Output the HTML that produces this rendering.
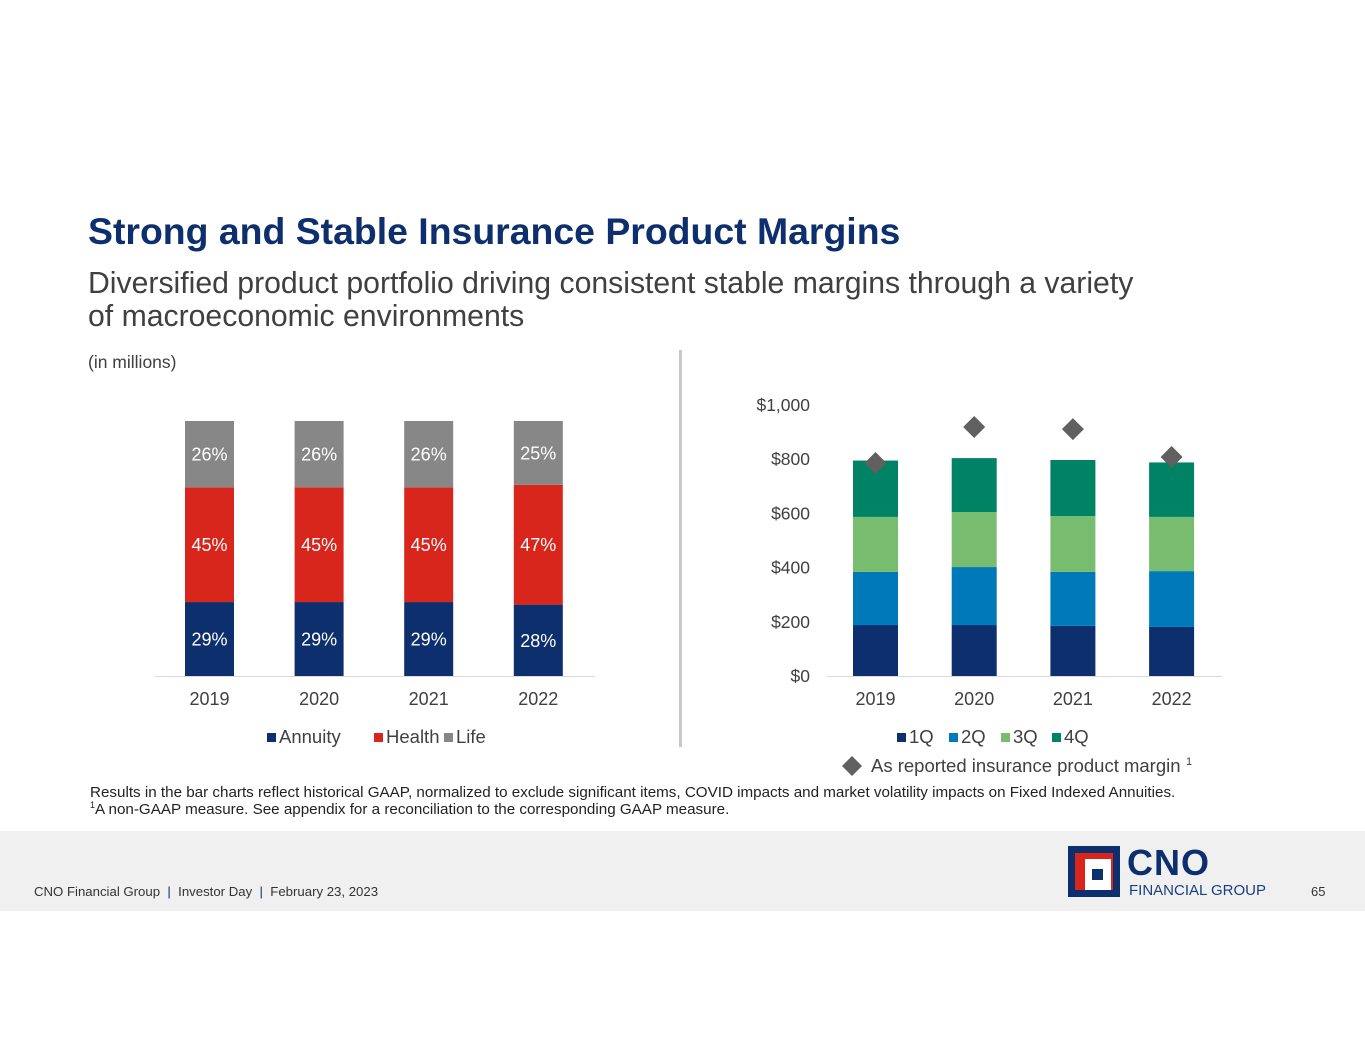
<!DOCTYPE html>
<html><head><meta charset="utf-8"><style>
body{margin:0;width:1365px;height:1055px;background:#fff;font-family:"Liberation Sans",Arial,sans-serif;position:relative;overflow:hidden}
.a{position:absolute;white-space:nowrap}
</style></head><body>
<div class="a" style="left:88px;top:210px;font-size:37.4px;font-weight:bold;color:#0d2f6e">Strong and Stable Insurance Product Margins</div>
<div class="a" style="left:88px;top:267px;font-size:30.2px;line-height:33px;color:#404040">Diversified product portfolio driving consistent stable margins through a variety<br>of macroeconomic environments</div>
<div class="a" style="left:88px;top:352px;font-size:17.5px;color:#404040">(in millions)</div>
<div class="a" style="left:679px;top:350px;width:3px;height:397px;background:#c8c8c8"></div>
<svg class="a" style="left:0;top:0" width="1365" height="830" id="svg"></svg>
<div class="a" style="left:90px;top:784px;font-size:15.2px;line-height:17px;color:#222">Results in the bar charts reflect historical GAAP, normalized to exclude significant items, COVID impacts and market volatility impacts on Fixed Indexed Annuities.<br><sup style="font-size:9px;line-height:0">1</sup>A non-GAAP measure. See appendix for a reconciliation to the corresponding GAAP measure.</div>
<div class="a" style="left:0;top:831px;width:1365px;height:80px;background:#f0f0f0"></div>
<div class="a" style="left:34px;top:884px;font-size:13.2px;color:#333">CNO Financial Group &nbsp;<span style="color:#0d2f6e">|</span>&nbsp; Investor Day &nbsp;<span style="color:#0d2f6e">|</span>&nbsp; February 23, 2023</div>
<div class="a" style="left:1311px;top:884px;font-size:13px;color:#333">65</div>
<div class="a" style="left:1068px;top:846px;width:52px;height:51px;background:#0d2f6e">
 <div class="a" style="left:7px;top:7px;width:38px;height:37px;background:#d9261c"></div>
 <div class="a" style="left:17px;top:13px;width:26px;height:31px;background:#fff"></div>
 <div class="a" style="left:24px;top:23px;width:11px;height:11px;background:#0d2f6e"></div>
</div>
<div class="a" style="left:1127px;top:845px;font-size:36px;font-weight:bold;color:#0d2f6e;line-height:36px;letter-spacing:1px">CNO</div>
<div class="a" style="left:1129px;top:882px;font-size:15px;color:#1a3f7e">FINANCIAL GROUP</div>
<script>
const years=["2019","2020","2021","2022"];
const annuity=[29,29,29,28];
const health=[45,45,45,47];
const life=[26,26,26,25];
const q1=[188,188,185,181];
const q2=[196,214,199,206];
const q3=[203,203,206,200];
const q4=[208,199,207,201];
const margin=[786,919,911,808];
const yTicks=[0,200,400,600,800,1000];
const NS="http://www.w3.org/2000/svg";
const svg=document.getElementById('svg');
function mk(t,a,txt){const e=document.createElementNS(NS,t);for(const k in a)e.setAttribute(k,a[k]);if(txt!==undefined)e.textContent=txt;svg.appendChild(e);return e;}
const lBase=676,lH=255;
const lx=i=>209.5+i*109.6;
const ly=p=>lBase-p/100*lH;
mk('line',{x1:155,x2:595,y1:676.5,y2:676.5,stroke:'#d9d9d9','stroke-width':1});
const lSeries=[[annuity,'#0d2f6e','annuity'],[health,'#d9261c','health'],[life,'#878787','life']];
years.forEach((y,i)=>{
 let cum=0;
 lSeries.forEach(([arr,col,nm])=>{
  const y0=ly(cum),y1=ly(cum+arr[i]);
  const r=mk('rect',{x:lx(i)-24.5,y:y1,width:49,height:y0-y1,fill:col});
  
  
  const t=mk('text',{x:lx(i),y:(y0+y1)/2+6.5,'text-anchor':'middle','font-size':18,fill:'#fff'},arr[i]+'%');
  
  
  cum+=arr[i];
 });
 const t=mk('text',{x:lx(i),y:705,'text-anchor':'middle','font-size':18,fill:'#404040'},y);
 
 
});
[['Annuity','#0d2f6e',267],['Health','#d9261c',374],['Life','#878787',444]].forEach(([n,c,x])=>{
 const r=mk('rect',{x:x,y:733,width:9,height:9,fill:c});
 
 
 const t=mk('text',{x:x+12,y:743,'font-size':18.5,fill:'#404040'},n);
 
 
});
const rBase=676,rScale=0.271;
const rx=i=>875.5+i*98.7;
const ry=v=>rBase-v*rScale;
mk('line',{x1:827,x2:1222,y1:676.5,y2:676.5,stroke:'#d9d9d9','stroke-width':1});
yTicks.forEach(v=>{
 const t=mk('text',{x:810,y:ry(v)+6,'text-anchor':'end','font-size':17.5,fill:'#404040'},'$'+v.toLocaleString('en-US'));
 
 
});
const rSeries=[[q1,'#0d2f6e','1q'],[q2,'#0079b8','2q'],[q3,'#78bd6f','3q'],[q4,'#008264','4q']];
years.forEach((y,i)=>{
 let cum=0;
 rSeries.forEach(([arr,col,nm])=>{
  const y0=ry(cum),y1=ry(cum+arr[i]);
  const r=mk('rect',{x:rx(i)-22.5,y:y1,width:45,height:y0-y1,fill:col});
  
  
  cum+=arr[i];
 });
 const my=ry(margin[i]),cx=rx(i);
 const d=mk('polygon',{points:`${cx},${my-11} ${cx+11},${my} ${cx},${my+11} ${cx-11},${my}`,fill:'#606060'});
 
 
 const t=mk('text',{x:cx,y:705,'text-anchor':'middle','font-size':18,fill:'#404040'},y);
 
 
});
[['1Q','#0d2f6e',897],['2Q','#0079b8',949],['3Q','#78bd6f',1001],['4Q','#008264',1052]].forEach(([n,c,x])=>{
 const r=mk('rect',{x:x,y:733,width:9,height:9,fill:c});
 
 
 const t=mk('text',{x:x+12,y:743,'font-size':18.5,fill:'#404040'},n);
 
 
});
const ld=mk('polygon',{points:'852,756 862,766 852,776 842,766',fill:'#606060'});


const lt=mk('text',{x:871,y:772,'font-size':18.5,fill:'#404040'},'As reported insurance product margin');


const ls=mk('text',{x:1186,y:765,'font-size':11,fill:'#404040'},'1');


</script>
</body></html>
